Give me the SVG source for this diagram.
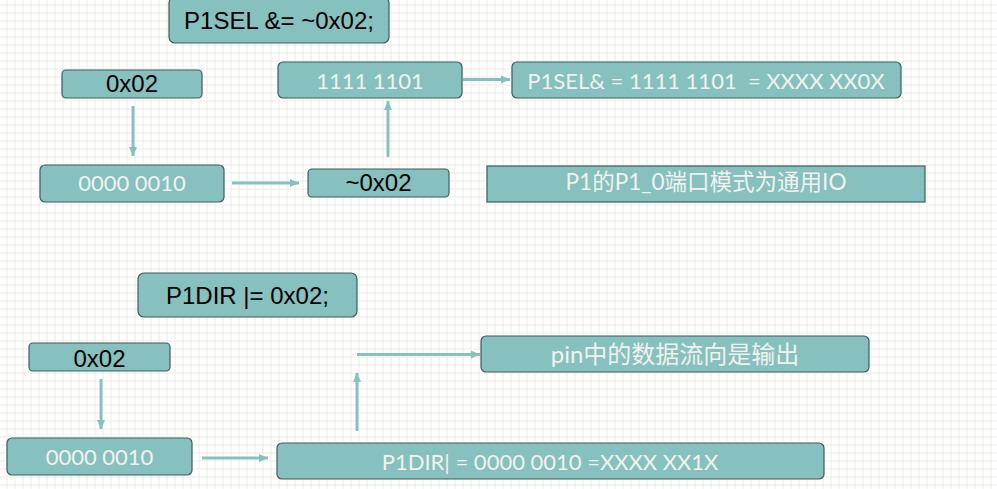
<svg xmlns="http://www.w3.org/2000/svg" width="997" height="489" viewBox="0 0 997 489">
<style>
.box{fill:#86c1bf;stroke:#3b5e5b;stroke-width:1.2}
.dk{font-family:"Liberation Sans",Arial,sans-serif;font-size:24px;fill:#000;text-anchor:middle}
.lt{font-family:Lato,"Noto Sans CJK SC",sans-serif;font-size:22px;fill:#f1f2ee;text-anchor:middle}
.cn{font-family:Lato,"Noto Sans CJK SC",sans-serif;fill:#f1f2ee;text-anchor:middle}
.ar{stroke:#86c1bf;stroke-width:3;fill:none;marker-end:url(#ah)}
</style>
<defs>
<pattern id="grid" width="8" height="8" patternUnits="userSpaceOnUse" x="6.5" y="4.5">
<rect width="8" height="8" fill="#ffffff"/>
<path d="M0.5,0V8M0,0.5H8" stroke="#ecebe5" stroke-width="1"/>
</pattern>
<marker id="ah" markerUnits="userSpaceOnUse" markerWidth="12" markerHeight="12" refX="9" refY="6" orient="auto">
<path d="M0,2L9,6L0,10z" fill="#86c1bf"/>
</marker>
</defs>
<rect width="997" height="489" fill="url(#grid)"/>
<g id="connectors">
<line class="ar" x1="133" y1="106" x2="133" y2="156"/>
<line class="ar" x1="232" y1="183" x2="299" y2="183"/>
<line class="ar" x1="388" y1="157" x2="388" y2="101"/>
<line class="ar" x1="463" y1="79.5" x2="510" y2="79.5"/>
<line class="ar" x1="101" y1="379" x2="101" y2="429"/>
<line class="ar" x1="202" y1="458" x2="268" y2="458"/>
<line class="ar" x1="357" y1="431" x2="357" y2="373"/>
<line class="ar" x1="357" y1="354.5" x2="480" y2="354.5"/>
</g>
<g id="n_p1sel"><rect class="box" x="169" y="-3" width="220" height="46" rx="6"/><text class="dk" x="279" y="29">P1SEL &amp;= ~0x02;</text></g>
<g id="n_0x02a"><rect class="box" x="62" y="70" width="140" height="28" rx="4"/><text class="dk" x="132" y="91.5">0x02</text></g>
<g id="n_bin_a"><rect class="box" x="40" y="165" width="184" height="37" rx="5"/><text class="lt" x="132" y="191">0000 0010</text></g>
<g id="n_not"><rect class="box" x="308" y="169" width="141" height="28" rx="4"/><text class="dk" x="378.5" y="191">~0x02</text></g>
<g id="n_1111"><rect class="box" x="278" y="62" width="184" height="36" rx="5"/><text class="lt" x="370" y="88.5">1111 1101</text></g>
<g id="n_res_a"><rect class="box" x="512" y="62" width="389" height="36" rx="5"/><text class="lt" x="706" y="88.5" font-size="21.5" xml:space="preserve">P1SEL&amp; = 1111 1101  = XXXX XX0X</text></g>
<g id="n_note_a"><rect class="box" x="487" y="166" width="438" height="36"/><text class="cn" x="706" y="190" font-size="22.5">P1的P1_0端口模式为通用IO</text></g>
<g id="n_p1dir"><rect class="box" x="138" y="273" width="219" height="44" rx="6"/><text class="dk" x="247.5" y="303.5">P1DIR |= 0x02;</text></g>
<g id="n_0x02b"><rect class="box" x="29" y="343" width="141" height="28" rx="4"/><text class="dk" x="99.5" y="366.5">0x02</text></g>
<g id="n_bin_b"><rect class="box" x="7" y="438" width="185" height="37" rx="5"/><text class="lt" x="99.5" y="465">0000 0010</text></g>
<g id="n_res_b"><rect class="box" x="277" y="443" width="547" height="36" rx="5"/><text class="lt" x="550" y="469.5">P1DIR| = 0000 0010 =XXXX XX1X</text></g>
<g id="n_note_b"><rect class="box" x="481" y="336" width="388" height="36" rx="5"/><text class="cn" x="675" y="363" font-size="24">pin中的数据流向是输出</text></g>
</svg>
